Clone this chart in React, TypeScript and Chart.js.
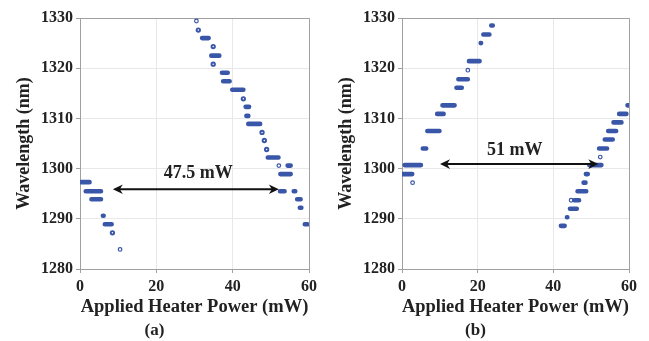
import React, { useEffect, useRef } from 'react';
import { Chart, registerables } from 'chart.js';
Chart.register(...registerables);

// ---------- shared axis values ----------
const xMin = 0;
const xMax = 60;
const xStep = 20;
const yMin = 1280;
const yMax = 1330;
const yStep = 10;
const xTitle = 'Applied Heater Power (mW)';
const yTitle = 'Wavelength (nm)';

// ---------- panel (a) ----------
const aSegStart = [32.0, 34.4, 37.2, 37.5, 39.9, 43.4, 43.6, 44.1, 49.2, 54.4, 52.5, 52.4, 56.0, 56.9, 57.6, 58.9, 0.3, 1.5, 3.0, 6.0, 6.5];
const aSegEnd = [33.7, 36.5, 38.7, 39.2, 42.8, 44.3, 44.1, 47.2, 52.0, 55.2, 55.2, 53.6, 56.4, 57.8, 58.0, 59.6, 2.5, 5.5, 5.5, 6.2, 8.3];
const aSegLevel = [1326.0, 1322.5, 1319.1, 1317.4, 1315.7, 1312.3, 1310.5, 1308.9, 1302.2, 1300.6, 1298.9, 1295.5, 1295.5, 1293.9, 1292.2, 1288.9, 1297.3, 1295.5, 1293.9, 1290.6, 1288.9];
const aDotX = [31.0, 34.9, 34.9, 42.8, 47.7, 48.3, 48.9, 8.5];
const aDotY = [1327.6, 1324.3, 1320.8, 1313.9, 1307.2, 1305.6, 1303.8, 1287.2];
const aRingX = [30.5, 52.1, 10.5];
const aRingY = [1329.4, 1300.6, 1283.9];
const aArrowX = [8.6, 52.1];
const aArrowY = 1295.9;
const aLabel = '47.5 mW';
const aLabelX = 31.0;
const aLabelY = 1298.1;
const aCaption = '(a)';

// ---------- panel (b) ----------
const bSegStart = [23.6, 21.5, 20.8, 17.7, 14.9, 14.4, 10.7, 9.3, 6.7, 5.5, 0.7, 0.3, 42.0, 43.6, 44.4, 45.5, 46.4, 48.0, 48.6, 49.5, 52.1, 53.6, 54.5, 55.9, 57.4, 59.6];
const bSegEnd = [24.0, 23.1, 20.9, 20.5, 17.4, 15.8, 13.9, 11.0, 9.9, 6.4, 5.0, 2.7, 43.0, 43.7, 46.2, 46.8, 48.7, 48.5, 49.1, 52.7, 54.2, 55.7, 56.6, 58.0, 59.3, 60.0];
const bSegLevel = [1328.5, 1326.7, 1325.0, 1321.4, 1317.8, 1316.1, 1312.6, 1310.9, 1307.5, 1304.0, 1300.7, 1298.9, 1288.6, 1290.3, 1292.0, 1293.7, 1295.5, 1297.2, 1298.9, 1300.7, 1304.0, 1305.8, 1307.5, 1309.2, 1310.9, 1312.6];
const bDotX: number[] = [];
const bDotY: number[] = [];
const bRingX = [17.4, 2.8, 44.7, 52.4];
const bRingY = [1319.6, 1297.2, 1293.7, 1302.3];
const bArrowX = [10.05, 51.9];
const bArrowY = 1300.9;
const bLabel = '51 mW';
const bLabelX = 29.8;
const bLabelY = 1302.7;
const bCaption = '(b)';

const BLUE = '#3a56a8';
const TEXT = '#222222';
const FONT = "'Liberation Serif', 'Times New Roman', serif";

type Panel = {
  segStart: number[]; segEnd: number[]; segLevel: number[];
  dotX: number[]; dotY: number[]; ringX: number[]; ringY: number[];
  arrowX: number[]; arrowY: number; label: string; labelX: number; labelY: number;
  caption: string; padRight: number;
};

const panelA: Panel = { segStart: aSegStart, segEnd: aSegEnd, segLevel: aSegLevel, dotX: aDotX, dotY: aDotY, ringX: aRingX, ringY: aRingY, arrowX: aArrowX, arrowY: aArrowY, label: aLabel, labelX: aLabelX, labelY: aLabelY, caption: aCaption, padRight: 13 };
const panelB: Panel = { segStart: bSegStart, segEnd: bSegEnd, segLevel: bSegLevel, dotX: bDotX, dotY: bDotY, ringX: bRingX, ringY: bRingY, arrowX: bArrowX, arrowY: bArrowY, label: bLabel, labelX: bLabelX, labelY: bLabelY, caption: bCaption, padRight: 20 };

function drawHead(ctx: CanvasRenderingContext2D, tip: number, y: number, dir: number) {
  const L = 10, W = 4.8, notch = 3;
  ctx.beginPath();
  ctx.moveTo(tip, y);
  ctx.lineTo(tip + dir * L, y - W);
  ctx.lineTo(tip + dir * (L - notch), y);
  ctx.lineTo(tip + dir * L, y + W);
  ctx.closePath();
  ctx.fill();
}

function makeChart(canvas: HTMLCanvasElement, p: Panel) {
  const segData: any[] = [];
  p.segStart.forEach((s, i) => {
    segData.push({ x: s, y: p.segLevel[i] });
    segData.push({ x: p.segEnd[i], y: p.segLevel[i] });
    segData.push({ x: p.segEnd[i], y: null });
  });
  const dotData = p.dotX.map((x, i) => ({ x, y: p.dotY[i] }));
  const ringData = p.ringX.map((x, i) => ({ x, y: p.ringY[i] }));

  const framePlugin = {
    id: 'frame',
    beforeDatasetsDraw(chart: any) {
      const { ctx, chartArea: a } = chart;
      ctx.save();
      ctx.strokeStyle = '#a0a0a0';
      ctx.lineWidth = 1;
      ctx.beginPath();
      ctx.moveTo(a.left, a.top + 0.5);
      ctx.lineTo(a.right + 0.5, a.top + 0.5);
      ctx.lineTo(a.right + 0.5, a.bottom);
      ctx.stroke();
      ctx.restore();
    },
  };
  const arrowPlugin = {
    id: 'arrow',
    afterDatasetsDraw(chart: any) {
      const { ctx, scales } = chart;
      const x0 = scales.x.getPixelForValue(p.arrowX[0]);
      const x1 = scales.x.getPixelForValue(p.arrowX[1]);
      const y = scales.y.getPixelForValue(p.arrowY);
      ctx.save();
      ctx.strokeStyle = '#111';
      ctx.fillStyle = '#111';
      ctx.lineWidth = 2;
      ctx.beginPath();
      ctx.moveTo(x0 + 6, y);
      ctx.lineTo(x1 - 6, y);
      ctx.stroke();
      drawHead(ctx, x0, y, 1);
      drawHead(ctx, x1, y, -1);
      ctx.fillStyle = TEXT;
      ctx.font = `bold 18px ${FONT}`;
      ctx.textAlign = 'center';
      ctx.textBaseline = 'alphabetic';
      ctx.fillText(p.label, scales.x.getPixelForValue(p.labelX), scales.y.getPixelForValue(p.labelY));
      ctx.restore();
    },
  };

  return new Chart(canvas, {
    type: 'scatter',
    data: {
      datasets: [
        {
          data: segData,
          showLine: true,
          spanGaps: false,
          borderColor: BLUE,
          borderWidth: 4.6,
          borderCapStyle: 'round',
          borderJoinStyle: 'round',
          pointRadius: 0,
          pointHoverRadius: 0,
        } as any,
        {
          data: dotData,
          showLine: false,
          pointRadius: 1.7,
          pointBorderWidth: 1.9,
          pointBorderColor: BLUE,
          pointBackgroundColor: '#ffffff',
        } as any,
        {
          data: ringData,
          showLine: false,
          pointRadius: 1.8,
          pointBorderWidth: 1.2,
          pointBorderColor: BLUE,
          pointBackgroundColor: '#ffffff',
        } as any,
      ],
    },
    options: {
      animation: false,
      responsive: false,
      maintainAspectRatio: false,
      events: [],
      layout: { padding: { left: 0, right: p.padRight, top: 18, bottom: 0 } },
      plugins: {
        legend: { display: false },
        tooltip: { enabled: false },
        title: {
          display: true,
          position: 'bottom',
          text: p.caption,
          color: TEXT,
          font: { family: FONT, size: 17, weight: 'bold', lineHeight: 1.2 },
          padding: 0,
        },
      },
      scales: {
        x: {
          type: 'linear',
          min: xMin,
          max: xMax,
          ticks: { stepSize: xStep, color: TEXT, font: { family: FONT, size: 16, weight: 'bold' }, padding: 4, maxRotation: 0, callback: (v: any) => String(v) },
          grid: { color: '#e8e8e8', tickLength: 4, tickColor: '#a0a0a0' },
          border: { color: '#a0a0a0' },
          title: { display: true, text: xTitle, color: TEXT, font: { family: FONT, size: 18.5, weight: 'bold', lineHeight: 1.2 }, padding: { top: 0, bottom: 2.5 } },
          afterFit: (s: any) => { s.height = 51.6; },
        },
        y: {
          type: 'linear',
          min: yMin,
          max: yMax,
          ticks: { stepSize: yStep, color: TEXT, font: { family: FONT, size: 16, weight: 'bold' }, padding: 3, callback: (v: any) => String(v) },
          grid: { color: '#e8e8e8', tickLength: 4, tickColor: '#a0a0a0' },
          border: { color: '#a0a0a0' },
          title: { display: true, text: yTitle, color: TEXT, font: { family: FONT, size: 18, weight: 'bold', lineHeight: 1.2 }, padding: { top: 14, bottom: 0 } },
          afterFit: (s: any) => { s.width = 80; },
        },
      },
    } as any,
    plugins: [framePlugin, arrowPlugin],
  });
}

export default function App() {
  const refA = useRef<HTMLCanvasElement>(null);
  const refB = useRef<HTMLCanvasElement>(null);
  useEffect(() => {
    const ca = makeChart(refA.current!, panelA);
    const cb = makeChart(refB.current!, panelB);
    return () => { ca.destroy(); cb.destroy(); };
  }, []);
  return (
    <div style={{ position: 'absolute', left: 0, top: 0, width: 649, height: 341, background: '#fff', overflow: 'hidden' }}>
      <canvas ref={refA} width={322} height={341} style={{ position: 'absolute', left: 0, top: 0, width: 322, height: 341 }} />
      <canvas ref={refB} width={327} height={341} style={{ position: 'absolute', left: 322, top: 0, width: 327, height: 341 }} />
    </div>
  );
}
